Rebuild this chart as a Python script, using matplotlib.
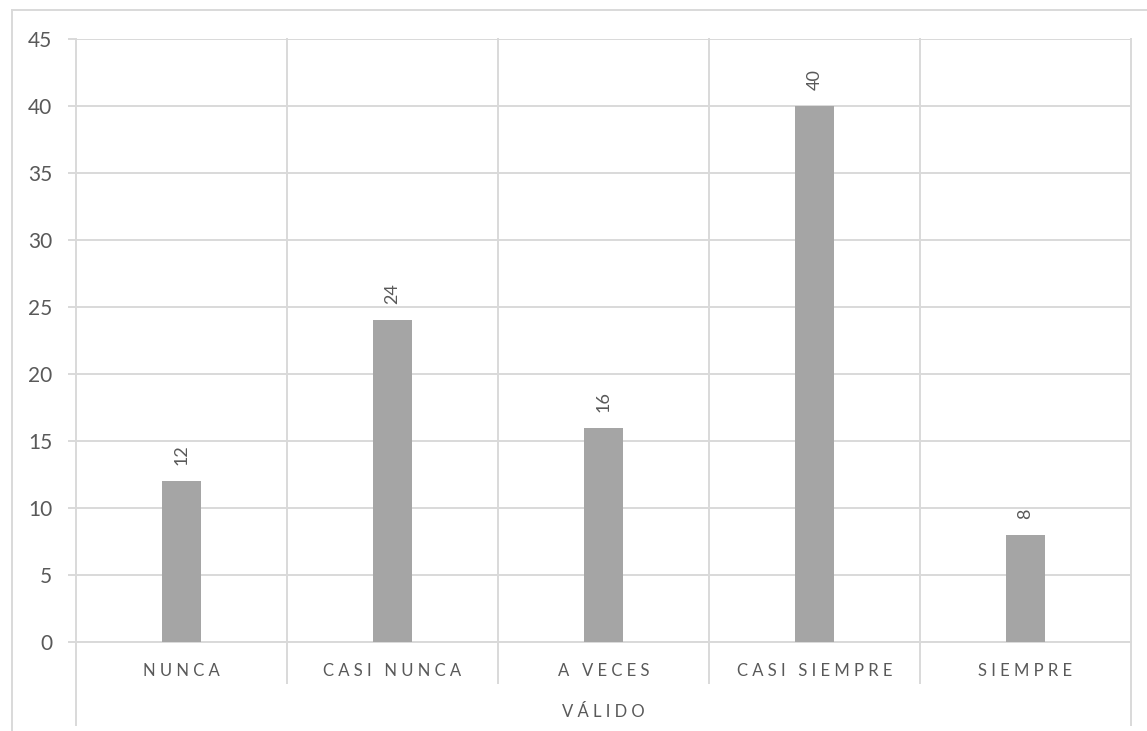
import matplotlib
matplotlib.use("Agg")
import matplotlib.pyplot as plt
from matplotlib.lines import Line2D
from matplotlib.transforms import blended_transform_factory

categories = ["NUNCA", "CASI NUNCA", "A VECES", "CASI SIEMPRE", "SIEMPRE"]
values = [12, 24, 16, 40, 8]
group_label = "VÁLIDO"
yticks = [0, 5, 10, 15, 20, 25, 30, 35, 40, 45]

plt.rcParams['font.family'] = ['Lato', 'DejaVu Sans']
TXT = '#595959'
GRID = '#d9d9d9'
BAR = '#a5a5a5'

W, H = 1147, 731
fig = plt.figure(figsize=(W / 100, H / 100), dpi=100)
ax = fig.add_axes([76 / W, (H - 642) / H, (1131 - 76) / W, (642 - 39) / H])

x = list(range(len(categories)))
ax.bar(x, values, width=0.185, color=BAR, zorder=3)
ax.set_xlim(-0.5, len(categories) - 0.5)
ax.set_ylim(0, 45)
ax.set_yticks(yticks)
ax.set_yticklabels([str(t) for t in yticks], fontsize=15, color=TXT)
ax.yaxis.grid(True, color=GRID, linewidth=1.4, zorder=0)
ax.tick_params(axis='y', length=6, width=1.4, color=GRID, pad=11)
ax.set_xticks([])
for s in ax.spines.values():
    s.set_visible(False)

# category boundary lines
axh = 642 - 39
trans = blended_transform_factory(ax.transData, ax.transAxes)
bounds = [i - 0.5 for i in range(len(categories) + 1)]
for i, b in enumerate(bounds):
    outer = i == 0 or i == len(bounds) - 1
    ybot = -83 / axh if outer else -41 / axh
    ax.add_line(Line2D([b, b], [1, ybot], transform=trans, color=GRID,
                       linewidth=1.4, clip_on=False, zorder=1))
ax.add_line(Line2D([-0.5, len(categories) - 0.5], [0, 0], transform=trans,
                   color=GRID, linewidth=1.4, clip_on=False, zorder=2))


def spaced(s):
    return "   ".join(" ".join(w) for w in s.split(" "))


for xi, c in zip(x, categories):
    ax.text(xi, -29 / axh, spaced(c), transform=trans, ha='center', va='center',
            fontsize=12, color=TXT)
ax.text((len(categories) - 1) / 2, -70 / axh, spaced(group_label), transform=trans,
        ha='center', va='center', fontsize=12, color=TXT)

for xi, v in zip(x, values):
    ax.annotate(str(v), (xi, v), xytext=(0, 16), textcoords='offset pixels',
                rotation=90, ha='center', va='bottom', fontsize=13, color=TXT)

# outer chart border
fig.add_artist(Line2D([12 / W, 1], [1 - 10 / H, 1 - 10 / H], transform=fig.transFigure,
                      color=GRID, linewidth=1.4))
fig.add_artist(Line2D([12 / W, 12 / W], [1 - 10 / H, 0], transform=fig.transFigure,
                      color=GRID, linewidth=1.4))

fig.savefig("out.png", dpi=100, facecolor='white')
